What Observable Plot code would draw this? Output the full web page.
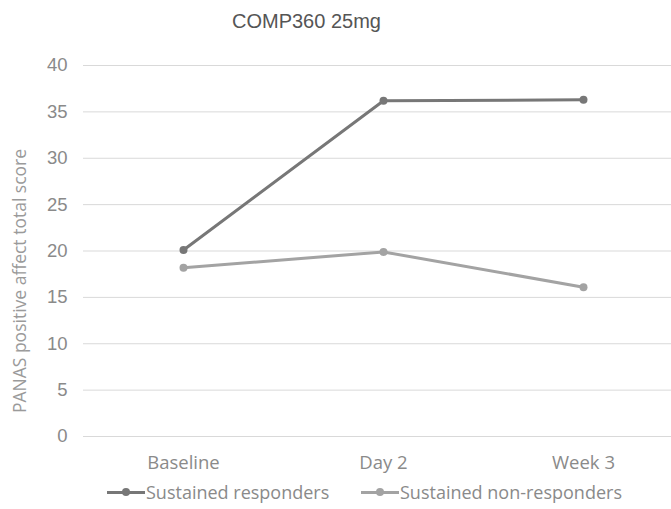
<!DOCTYPE html>
<html>
<head>
<meta charset="utf-8">
<script src="https://cdn.jsdelivr.net/npm/d3@7"></script>
<script src="https://cdn.jsdelivr.net/npm/@observablehq/plot@0.6"></script>
<style>
  body { margin: 0; background: #fff; width: 671px; overflow: hidden; }
  #title { height: 45px; font-family: "Liberation Sans", Arial, sans-serif; font-size: 20px; color: #555; position: relative; }
  #title span { position: absolute; left: 232px; top: 10px; }
  #legend { height: 34px; position: relative; font-family: "Open Sans", sans-serif; font-size: 18px; color: #8a8a8a; }
  .item { position: absolute; top: 5px; display: flex; align-items: center; }
  .sw { width: 38px; height: 3px; position: relative; margin-right: 1px; }
  .sw i { position: absolute; left: 15px; top: -3px; width: 8px; height: 8px; border-radius: 50%; }
</style>
</head>
<body>
<div id="title"><span>COMP360 25mg</span></div>
<div id="chart"></div>
<div id="legend"></div>
<script>
const categories = ["Baseline", "Day 2", "Week 3"];
const seriesNames = ["Sustained responders", "Sustained non-responders"];
const responders = [20.1, 36.2, 36.3];
const nonResponders = [18.2, 19.9, 16.1];
const yTicks = [0, 5, 10, 15, 20, 25, 30, 35, 40];
const colors = ["#777777", "#a3a3a3"];
const yLabel = "PANAS positive affect total score";

const data = [];
categories.forEach((c, i) => {
  data.push({cat: c, value: responders[i], series: seriesNames[0]});
  data.push({cat: c, value: nonResponders[i], series: seriesNames[1]});
});

const chart = Plot.plot({
  width: 671,
  height: 430,
  marginTop: 20,
  marginBottom: 39,
  marginLeft: 83,
  marginRight: 0,
  style: {fontFamily: "'Open Sans', sans-serif", color: "#888", background: "#fff"},
  x: {type: "point", domain: categories, range: [183, 583], padding: 0, label: null},
  y: {domain: [0, 40], label: null},
  color: {domain: seriesNames, range: colors},
  marks: [
    Plot.ruleY(yTicks, {stroke: "#d9d9d9", strokeWidth: 1}),
    Plot.axisY(yTicks, {tickSize: 0, tickPadding: 16, fontSize: 18.5, fill: "#8a8a8a", fontFamily: "'Liberation Sans', Arial, sans-serif", label: null}),
    Plot.axisX(categories, {tickSize: 0, tickPadding: 19, fontSize: 18.5, fill: "#8a8a8a", label: null}),
    Plot.text([yLabel], {frameAnchor: "left", textAnchor: "middle", rotate: -90, dx: -63, dy: 30, fontSize: 17.5, fill: "#9a9a9a"}),
    Plot.line(data, {x: "cat", y: "value", z: "series", stroke: "series", strokeWidth: 3}),
    Plot.dot(data, {x: "cat", y: "value", fill: "series", r: 4})
  ]
});
document.getElementById("chart").appendChild(chart);

const legend = document.getElementById("legend");
const lefts = [107, 361];
seriesNames.forEach((s, i) => {
  const it = document.createElement("div");
  it.className = "item";
  it.style.left = lefts[i] + "px";
  it.innerHTML = `<div class="sw" style="background:${colors[i]}"><i style="background:${colors[i]}"></i></div><span>${s}</span>`;
  legend.appendChild(it);
});
</script>
</body>
</html>
